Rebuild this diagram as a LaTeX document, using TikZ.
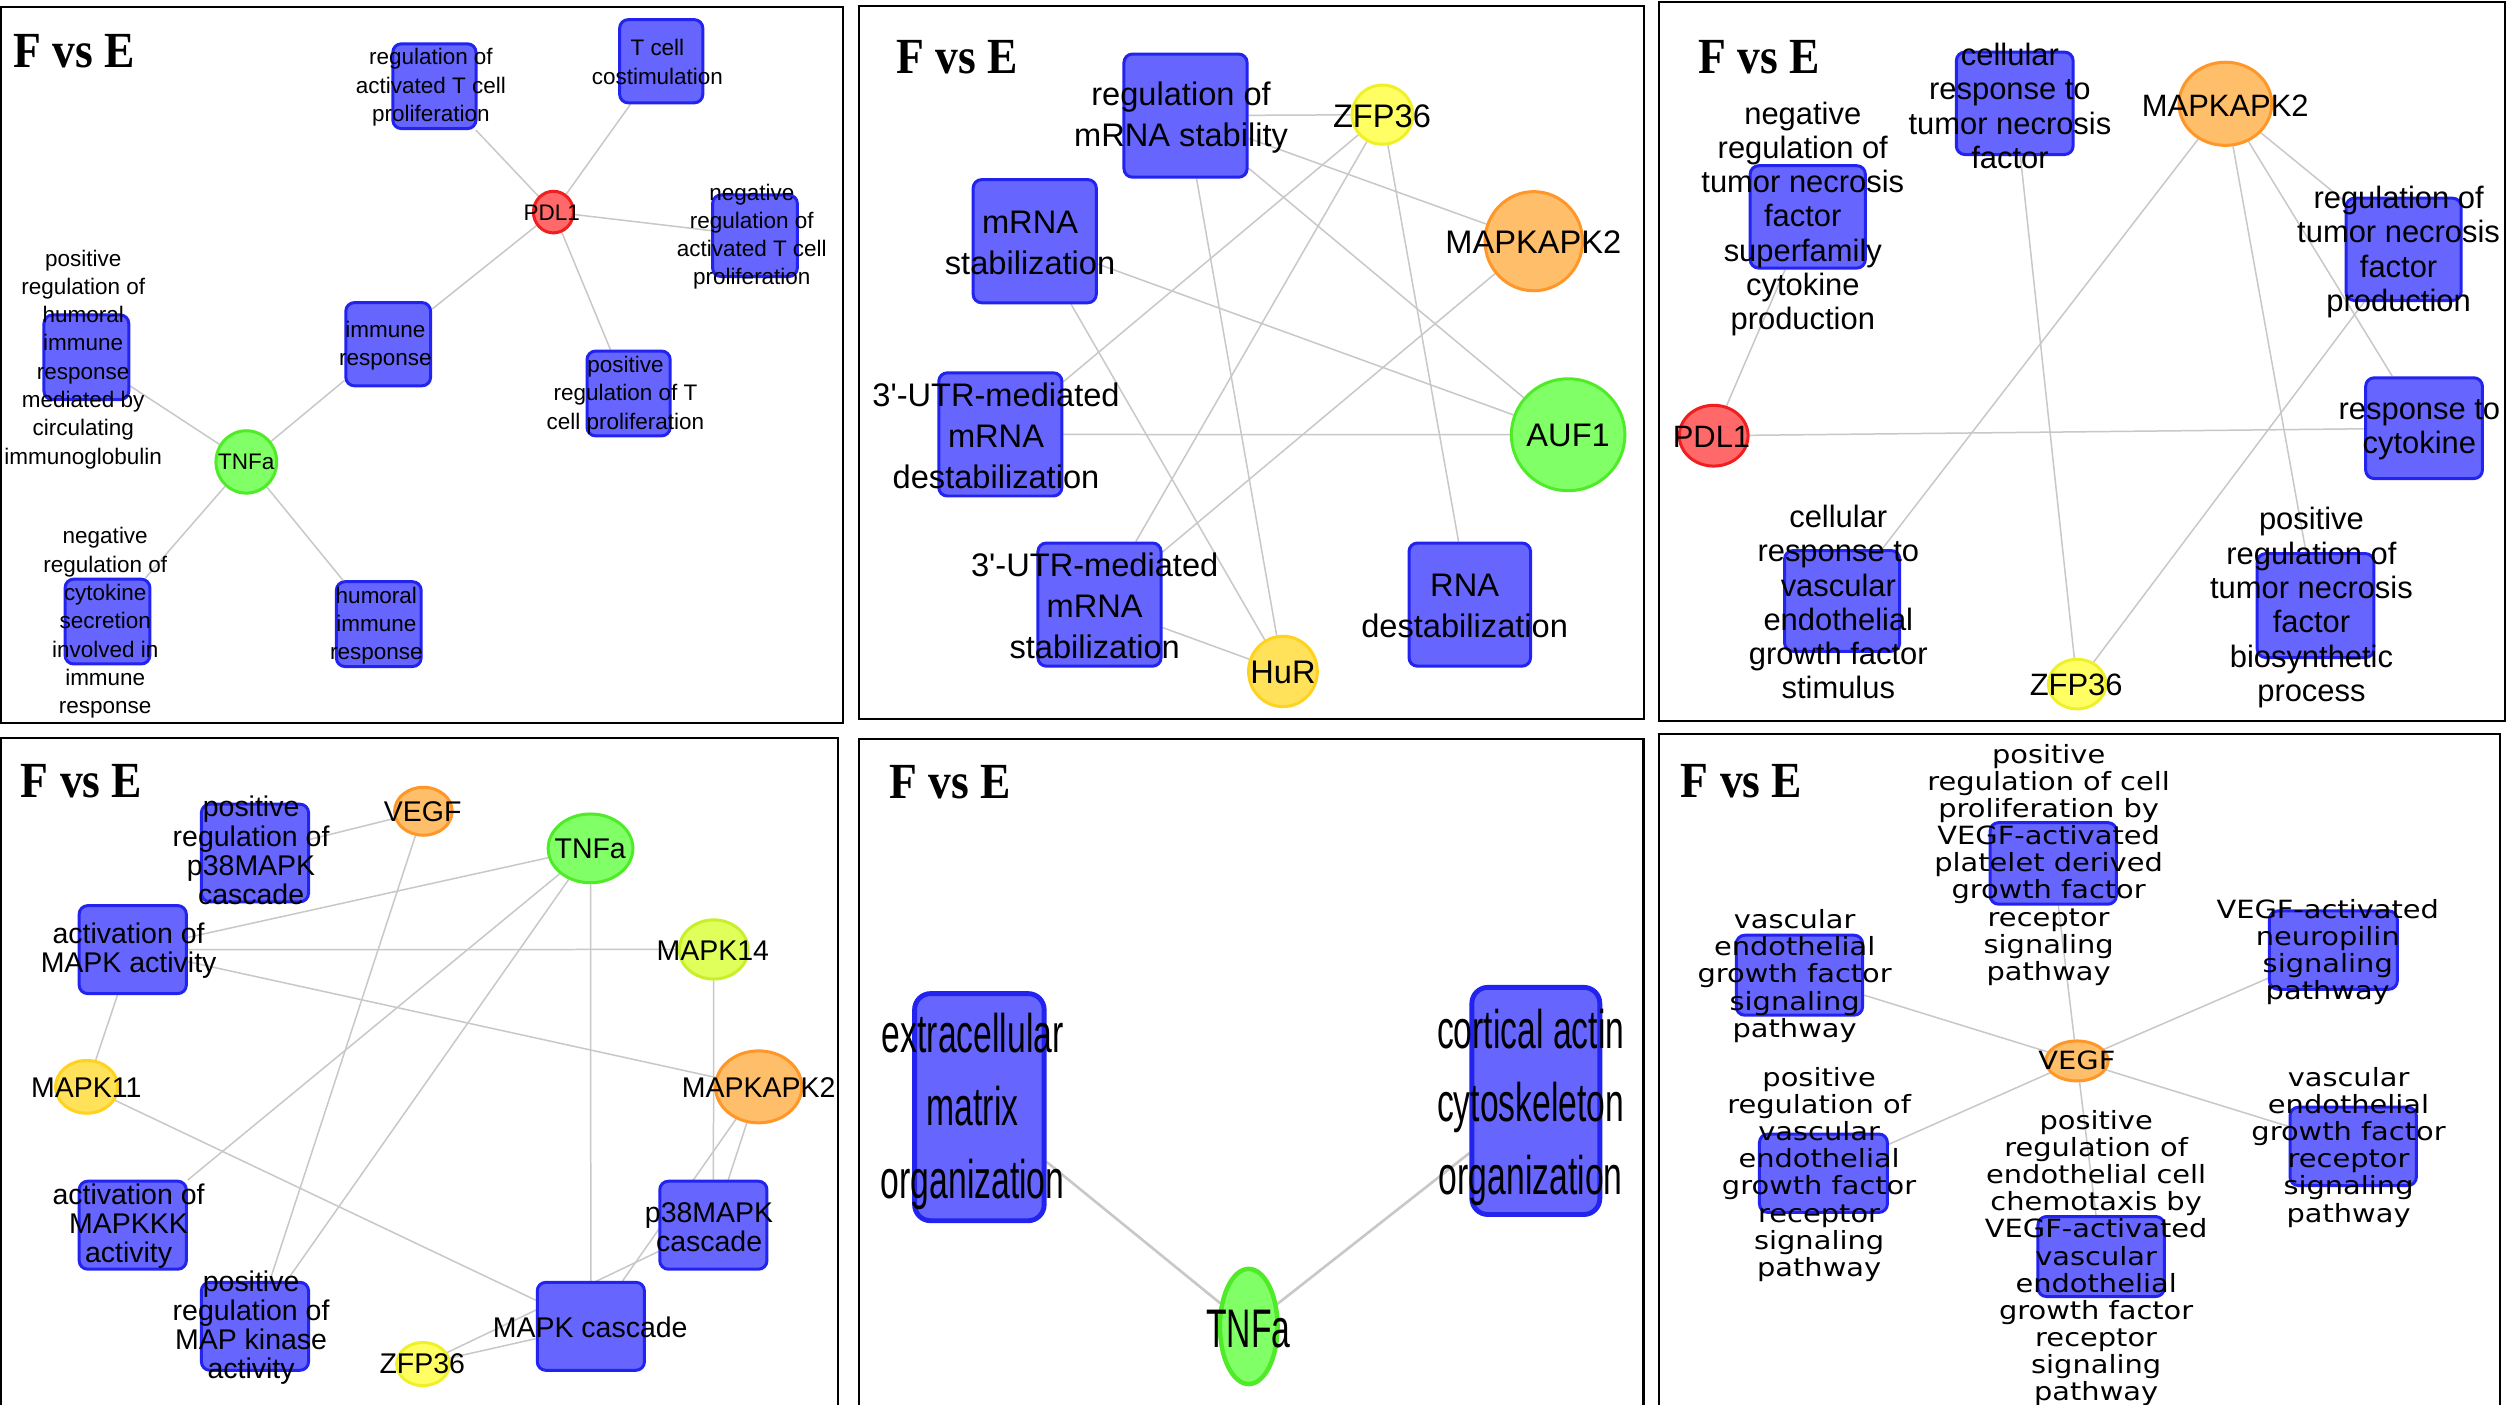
\documentclass[tikz,border=0pt]{standalone}
\usepackage{fontspec}
\setmainfont{Liberation Sans}
\newfontfamily\headfont[FakeStretch=0.9]{Liberation Serif}
\newfontfamily\narrowsans[FakeStretch=0.62]{Liberation Sans}
\newfontfamily\widesans[FakeStretch=1.15]{DejaVu Sans}
\usetikzlibrary{shapes.geometric,backgrounds}

\definecolor{boxfill}{RGB}{102,102,255}
\definecolor{boxline}{RGB}{35,35,240}
\definecolor{greenfill}{RGB}{128,255,102}
\definecolor{greenline}{RGB}{80,235,40}
\definecolor{redfill}{RGB}{255,105,105}
\definecolor{redline}{RGB}{240,30,30}
\definecolor{orangefill}{RGB}{255,190,105}
\definecolor{orangeline}{RGB}{255,150,40}
\definecolor{yellowfill}{RGB}{255,255,100}
\definecolor{yellowline}{RGB}{240,240,40}
\definecolor{goldfill}{RGB}{255,225,90}
\definecolor{goldline}{RGB}{255,210,30}
\definecolor{limefill}{RGB}{225,255,90}
\definecolor{limeline}{RGB}{200,240,40}
\definecolor{edgegray}{RGB}{200,200,200}

\tikzset{
  panel/.style={draw=black, line width=1.1pt},
  title/.style={font=\headfont\bfseries\fontsize{27}{27}\selectfont, anchor=west, inner sep=0pt},
  term/.style 2 args={rectangle, rounded corners=0.16cm, fill=boxfill, draw=boxline,
    line width=1.6pt, minimum width=#1*0.03cm, minimum height=#2*0.03cm, inner sep=0pt},
  gene/.style n args={4}{ellipse, fill=#3, draw=#4, line width=1.6pt,
    minimum width=#1*0.03cm, minimum height=#2*0.03cm, inner sep=0pt},
  link/.style={draw=edgegray, line width=0.8pt},
  lbl/.style={align=center, inner sep=0pt, text=black},
  tOne/.style={lbl, font=\fontsize{12}{15.1}\selectfont},
  tTwo/.style={lbl, font=\fontsize{17.4}{22}\selectfont},
  tThree/.style={lbl, font=\fontsize{16.5}{18.3}\selectfont},
  tFour/.style={lbl, font=\fontsize{15.2}{15.6}\selectfont},
  tFive/.style={lbl, font=\narrowsans\fontsize{29}{39}\selectfont},
  tSix/.style={lbl, font=\widesans\fontsize{13.4}{14.5}\selectfont},
}

\begin{document}
\begin{tikzpicture}[x=0.03cm, y=-0.03cm]
\useasboundingbox (0,0) rectangle (1568,878);

% panel frames
\draw[panel] (0.8,4.4) rectangle (527,452);
\draw[panel] (537,3.5) rectangle (1027.6,449.7);
\draw[panel] (1037,1.5) rectangle (1566,451);
\draw[panel] (0.8,461.6) rectangle (524,890);
\draw[panel] (537,462) rectangle (1027.5,890);
\draw[panel] (1037,459) rectangle (1563,890);

% titles
\node[title] (h1) at (8,32) {F vs E};
\node[title] (h2) at (560,36) {F vs E};
\node[title] (h3) at (1061.6,36) {F vs E};
\node[title] (h4) at (12.8,488.5) {F vs E};
\node[title] (h5) at (556,489) {F vs E};
\node[title] (h6) at (1050.6,488.5) {F vs E};

% ---------- panel 1: PDL1 / TNFa ----------
\node[term={52}{53}] (a1) at (271.6,53.9) {};
\node[term={52}{52}] (a2) at (413.4,38.3) {};
\node[gene={25}{26}{redfill}{redline}] (a3) at (346,132.6) {};
\node[term={53}{51}] (a4) at (472,147.4) {};
\node[term={53}{52}] (a5) at (242.7,215.2) {};
\node[term={52}{53}] (a6) at (393,246) {};
\node[term={53}{53}] (a7) at (54,223.4) {};
\node[gene={38}{39}{greenfill}{greenline}] (a8) at (154,288.8) {};
\node[term={53}{53}] (a9) at (67.2,388.6) {};
\node[term={53}{53}] (a10) at (236.8,390.2) {};

\node[tOne] (la1) at (269.4,54.6) {regulation of\\activated T cell\\proliferation};
\node[tOne] (la2) at (411,38.8) {T cell\\costimulation};
\node[tOne] (la3) at (345,133.3) {PDL1};
\node[tOne] (la4) at (470,148) {negative\\regulation of\\activated T cell\\proliferation};
\node[tOne] (la5) at (241,216) {immune\\response};
\node[tOne] (la6) at (391,247) {positive\\regulation of T\\cell proliferation};
\node[tOne] (la7) at (52,224.6) {positive\\regulation of\\humoral\\immune\\response\\mediated by\\circulating\\immunoglobulin};
\node[tOne] (la8) at (154,289) {TNFa};
\node[tOne] (la9) at (65.8,389.5) {negative\\regulation of\\cytokine\\secretion\\involved in\\immune\\response};
\node[tOne] (la10) at (235.3,391.2) {humoral\\immune\\response};

% ---------- panel 2: mRNA stability ----------
\begin{scope}[every node/.append style={line width=2.1pt}]
\node[term={77}{77}] (b1) at (741.2,72.3) {};
\node[gene={38}{37}{yellowfill}{yellowline}] (b2) at (864.3,71.7) {};
\node[gene={61}{62}{orangefill}{orangeline}] (b3) at (958.9,150.8) {};
\node[term={77}{77}] (b4) at (646.9,150.8) {};
\node[term={77}{77}] (b5) at (625.4,271.6) {};
\node[gene={71}{70}{greenfill}{greenline}] (b6) at (980.4,271.8) {};
\node[term={77}{77}] (b7) at (687.4,378) {};
\node[gene={43}{44}{goldfill}{goldline}] (b8) at (802.1,419.8) {};
\node[term={76}{77}] (b9) at (918.9,378) {};
\end{scope}

\node[tTwo] (lb1) at (738.4,73.5) {regulation of\\mRNA stability};
\node[tTwo] (lb2) at (864,72.4) {ZFP36};
\node[tTwo] (lb3) at (958.6,151.5) {MAPKAPK2};
\node[tTwo] (lb4) at (644,151.8) {mRNA\\stabilization};
\node[tTwo] (lb5) at (622.7,272.6) {3\textquotesingle-UTR-mediated\\mRNA\\destabilization};
\node[tTwo] (lb6) at (980.4,272.4) {AUF1};
\node[tTwo] (lb7) at (684.4,378.9) {3\textquotesingle-UTR-mediated\\mRNA\\stabilization};
\node[tTwo] (lb8) at (802.1,420.4) {HuR};
\node[tTwo] (lb9) at (915.7,379) {RNA\\destabilization};

% ---------- panel 3: tumor necrosis factor ----------
\node[term={72}{64}] (c1) at (1130.2,135.6) {};
\node[term={73}{64}] (c2) at (1259.6,64.6) {};
\node[gene={58}{52}{orangefill}{orangeline}] (c3) at (1391.3,64.9) {};
\node[term={72}{64}] (c4) at (1502.7,155.9) {};
\node[gene={43}{38}{redfill}{redline}] (c5) at (1071.4,272.4) {};
\node[term={73}{63}] (c6) at (1515.5,267.7) {};
\node[term={72}{63}] (c7) at (1151.7,375.7) {};
\node[gene={36}{31}{yellowfill}{yellowline}] (c8) at (1298.6,427.7) {};
\node[term={73}{65}] (c9) at (1447.7,378.6) {};

\node[tThree] (lc1) at (1127.1,136.9) {negative\\regulation of\\tumor necrosis\\factor\\superfamily\\cytokine\\production};
\node[tThree] (lc2) at (1256.6,66.2) {cellular\\response to\\tumor necrosis\\factor};
\node[tThree] (lc3) at (1391.2,65.8) {MAPKAPK2};
\node[tThree] (lc4) at (1499.6,157.5) {regulation of\\tumor necrosis\\factor\\production};
\node[tThree] (lc5) at (1070,273) {PDL1};
\node[tThree] (lc6) at (1512.6,268.8) {response to\\cytokine};
\node[tThree] (lc7) at (1149.3,376.5) {cellular\\response to\\vascular\\endothelial\\growth factor\\stimulus};
\node[tThree] (lc8) at (1298,428.4) {ZFP36};
\node[tThree] (lc9) at (1445.1,379.9) {positive\\regulation of\\tumor necrosis\\factor\\biosynthetic\\process};

% ---------- panel 4: MAPK ----------
\node[term={67}{61}] (d1) at (159.4,533.3) {};
\node[gene={36}{30}{orangefill}{orangeline}] (d2) at (264.7,507.2) {};
\node[gene={53}{43}{greenfill}{greenline}] (d3) at (369.2,530.4) {};
\node[term={67}{55}] (d4) at (83,593.7) {};
\node[gene={43}{37}{limefill}{limeline}] (d5) at (446.2,593.6) {};
\node[gene={39}{33}{goldfill}{goldline}] (d6) at (54.2,679.5) {};
\node[gene={54}{45}{orangefill}{orangeline}] (d7) at (474.3,679.5) {};
\node[term={67}{55}] (d8) at (83,766) {};
\node[term={67}{55}] (d9) at (446,766) {};
\node[term={67}{55}] (d10) at (159.4,829.2) {};
\node[term={67}{55}] (d11) at (369.4,829.2) {};
\node[gene={33}{27}{yellowfill}{yellowline}] (d12) at (264.5,852.8) {};

\node[tFour] (ld1) at (157,531.7) {positive\\regulation of\\p38MAPK\\cascade};
\node[tFour] (ld2) at (264.3,507.4) {VEGF};
\node[tFour] (ld3) at (369,531) {TNFa};
\node[tFour] (ld4) at (80.4,594.3) {activation of\\MAPK activity};
\node[tFour] (ld5) at (445.6,594.2) {MAPK14};
\node[tFour] (ld6) at (54,679.8) {MAPK11};
\node[tFour] (ld7) at (474.3,679.8) {MAPKAPK2};
\node[tFour] (ld8) at (80.4,766.7) {activation of\\MAPKKK\\activity};
\node[tFour] (ld9) at (443.3,767.2) {p38MAPK\\cascade};
\node[tFour] (ld10) at (157,830) {positive\\regulation of\\MAP kinase\\activity};
\node[tFour] (ld11) at (369,829.9) {MAPK cascade};
\node[tFour] (ld12) at (264,852.8) {ZFP36};

% ---------- panel 5: cytoskeleton ----------
\node[term={81}{142}, line width=2.6pt, rounded corners=0.3cm] (e1) at (612.3,692.2) {};
\node[term={80}{142}, line width=2.6pt, rounded corners=0.3cm] (e2) at (960.2,688.3) {};
\node[gene={36}{72}{greenfill}{greenline}, line width=2.4pt] (e3) at (780.7,829.3) {};

\node[tFive] (le1) at (608.1,694.7) {extracellular\\matrix\\organization};
\node[tFive] (le2) at (957,692.3) {cortical actin\\cytoskeleton\\organization};
\node[tFive] (le3) at (780.5,830.7) {TNFa};

% ---------- panel 6: VEGF ----------
\node[term={79}{51}] (f1) at (1283.7,539.8) {};
\node[term={79}{50}] (f2) at (1125,609.7) {};
\node[term={80}{49}] (f3) at (1458.8,594) {};
\node[gene={39}{25}{orangefill}{orangeline}] (f4) at (1298.5,663.3) {};
\node[term={80}{49}] (f5) at (1140,733.5) {};
\node[term={79}{50}] (f6) at (1313.6,785.6) {};
\node[term={79}{49}] (f7) at (1471.2,716.7) {};

\node[tSix] (lf1) at (1280.8,540.7) {positive\\regulation of cell\\proliferation by\\VEGF-activated\\platelet derived\\growth factor\\receptor\\signaling\\pathway};
\node[tSix] (lf2) at (1122,610.2) {vascular\\endothelial\\growth factor\\signaling\\pathway};
\node[tSix] (lf3) at (1455.3,595.3) {VEGF-activated\\neuropilin\\signaling\\pathway};
\node[tSix] (lf4) at (1298.5,663.1) {VEGF};
\node[tSix] (lf5) at (1137.3,734.2) {positive\\regulation of\\vascular\\endothelial\\growth factor\\receptor\\signaling\\pathway};
\node[tSix] (lf6) at (1310.5,786.6) {positive\\regulation of\\endothelial cell\\chemotaxis by\\VEGF-activated\\vascular\\endothelial\\growth factor\\receptor\\signaling\\pathway};
\node[tSix] (lf7) at (1468.3,717.2) {vascular\\endothelial\\growth factor\\receptor\\signaling\\pathway};

% ---------- connectors, behind the nodes ----------
\begin{pgfonlayer}{background}
\fill[white] (0,0) rectangle (1568,878);
\foreach \u/\v in {a3/a1, a3/a2, a3/a4, a3/a5, a3/a6, a8/a5, a8/a7, a8/a9, a8/a10,
                   b1/b2, b1/b3, b1/b6, b1/b8, b4/b6, b4/b8, b2/b5, b2/b7, b2/b9, b3/b7, b5/b6, b7/b8,
                   c5/c1, c5/c6, c2/c8, c3/c7, c3/c9, c3/c4, c3/c6, c4/c8,
                   d2/d1, d2/d10, d3/d4, d3/d8, d3/d10, d3/d11, d4/d5, d4/d7, d4/d6,
                   d5/d9, d7/d9, d7/d11, d6/d11, d12/d11, d12/d9,
                   f4/f1, f4/f2, f4/f3, f4/f5, f4/f6, f4/f7}
  \draw[link] (\u) -- (\v);
\draw[link, line width=1.4pt] (e1) -- (e3);
\draw[link, line width=1.4pt] (e2) -- (e3);
\end{pgfonlayer}
\end{tikzpicture}
\end{document}
